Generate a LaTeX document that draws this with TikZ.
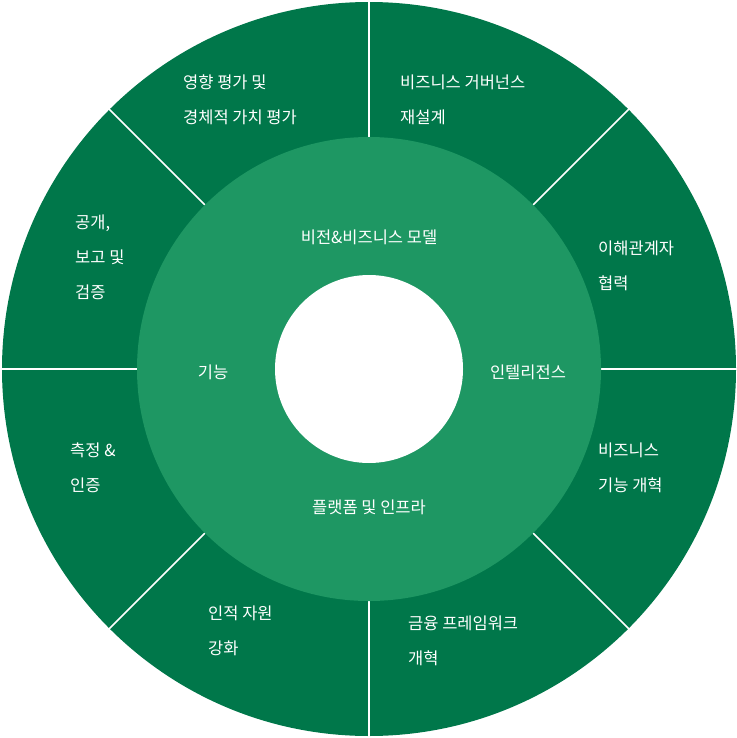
\documentclass[tikz,border=0pt]{standalone}
\usepackage{fontspec}
\setmainfont{Noto Sans CJK KR}
\definecolor{outerg}{HTML}{00774A}
\definecolor{midg}{HTML}{1E9763}
\begin{document}
\begin{tikzpicture}[x=1pt,y=-1pt,
  lbl/.style={text=white,align=left,anchor=west,inner sep=0pt,font=\fontsize{16.5}{35}\selectfont},
  mlbl/.style={text=white,align=center,inner sep=0pt,font=\fontsize{16.5}{35}\selectfont},
  sep/.style={draw=white,line width=1.6pt}]
\useasboundingbox (0,0) rectangle (736,738);
\coordinate (c) at (369,369);
\fill[outerg] (c) circle (367);
\foreach \a in {0,45,...,315} \draw[sep] (c) ++(\a:232) -- ++(\a:140);
\fill[midg] (c) circle (232);
\fill[white] (c) circle (94);
\node[mlbl,font=\fontsize{19}{33}\selectfont] (core) at (369,369) {지속 가능한\\비즈니스};
\node[mlbl] (m1) at (369,237) {비전\&비즈니스 모델};
\node[mlbl] (m2) at (528,372) {인텔리전스};
\node[mlbl] (m3) at (369,507) {플랫폼 및 인프라};
\node[mlbl] (m4) at (213,372) {기능};
\node[lbl] (o1) at (183,100) {영향 평가 및\\경체적 가치 평가};
\node[lbl] (o2) at (400,100) {비즈니스 거버넌스\\재설계};
\node[lbl] (o3) at (598,266) {이해관계자\\협력};
\node[lbl] (o4) at (598,468) {비즈니스\\기능 개혁};
\node[lbl] (o5) at (408,641) {금융 프레임워크\\개혁};
\node[lbl] (o6) at (208,631) {인적 자원\\강화};
\node[lbl] (o7) at (70,468) {측정 \&\\인증};
\node[lbl] (o8) at (75,257) {공개,\\보고 및\\검증};
\end{tikzpicture}
\end{document}
